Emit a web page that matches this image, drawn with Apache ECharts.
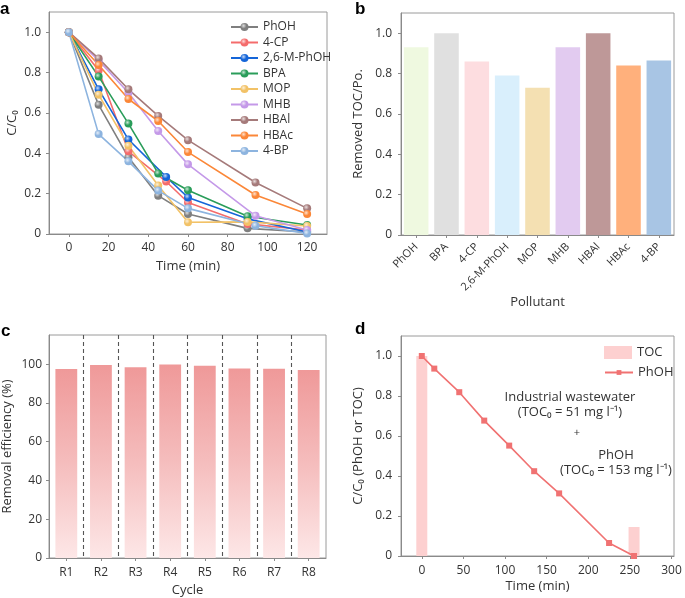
<!DOCTYPE html>
<html><head><meta charset="utf-8">
<script src="https://cdn.jsdelivr.net/npm/echarts@6/dist/echarts.min.js"></script>
<style>html,body{margin:0;padding:0;background:#fff}#c{width:685px;height:598px}</style>
</head><body><div id="c"></div>
<script>
// ---------- Panel a data ----------
const namesA = ['PhOH','4-CP','2,6-M-PhOH','BPA','MOP','MHB','HBAl','HBAc','4-BP'];
const colorsA = ['#7f7f7f','#f46c6c','#1565d8','#2a9d5a','#f2c267','#c499e8','#a57a7a','#fb8738','#8db4df'];
const tPhOH = [0,15,30,45,60,90,120];   const vPhOH = [1.0,0.64,0.38,0.19,0.099,0.028,0.01];
const t4CP  = [0,15,30,49,60,90,120];   const v4CP  = [1.0,0.81,0.41,0.26,0.156,0.05,0.02];
const t26M  = [0,15,30,49,60,90,120];   const v26M  = [1.0,0.717,0.468,0.283,0.181,0.075,0.01];
const tBPA  = [0,15,30,45,60,90,120];   const vBPA  = [1.0,0.78,0.547,0.30,0.217,0.088,0.045];
const tMOP  = [0,15,30,45,60,90,120];   const vMOP  = [1.0,0.69,0.437,0.24,0.058,0.06,0.04];
const tMHB  = [0,15,30,45,60,94,120];   const vMHB  = [1.0,0.86,0.70,0.51,0.345,0.09,0.02];
const tHBAl = [0,15,30,45,60,94,120];   const vHBAl = [1.0,0.87,0.717,0.585,0.465,0.255,0.127];
const tHBAc = [0,15,30,45,60,94,120];   const vHBAc = [1.0,0.837,0.669,0.56,0.406,0.193,0.099];
const t4BP  = [0,15,30,45,60,94,120];   const v4BP  = [1.0,0.495,0.36,0.215,0.127,0.041,0.003];
const timesA = [tPhOH,t4CP,t26M,tBPA,tMOP,tMHB,tHBAl,tHBAc,t4BP];
const valuesA = [vPhOH,v4CP,v26M,vBPA,vMOP,vMHB,vHBAl,vHBAc,v4BP];
const ticksA_x = [0,20,40,60,80,100,120];
const ticksA_y = [0,0.2,0.4,0.6,0.8,1.0];

// ---------- Panel b data ----------
const pollutants = ['PhOH','BPA','4-CP','2,6-M-PhOH','MOP','MHB','HBAl','HBAc','4-BP'];
const tocRemoved = [0.93,1.0,0.86,0.79,0.73,0.93,1.0,0.84,0.865];
const colorsB = ['#eff9e0','#e0e0e0','#fddde0','#d9effc','#f4e0b2','#e2cbf0','#be9898','#ffb07c','#a8c5e4'];

// ---------- Panel c data ----------
const cycles = ['R1','R2','R3','R4','R5','R6','R7','R8'];
const removalEff = [97.5,99.5,98.4,99.8,99.1,97.7,97.6,96.9];

// ---------- Panel d data ----------
const dTimes = [0,15,45,75,105,135,165,225,255];
const dPhOH = [1.0,0.937,0.819,0.677,0.552,0.424,0.313,0.065,0.0];
const tocTimes = [0,255];
const tocValues = [1.0,0.145];
const ticksD_x = [0,50,100,150,200,250,300];

const FONT = 'Open Sans';
const TXT = '#333';

function lighten(hex, f){
  const n = parseInt(hex.slice(1),16);
  let r=(n>>16)&255,g=(n>>8)&255,b=n&255;
  r=Math.round(r+(255-r)*f);g=Math.round(g+(255-g)*f);b=Math.round(b+(255-b)*f);
  return 'rgb('+r+','+g+','+b+')';
}
function ball(c){
  return {type:'radial',x:0.38,y:0.35,r:0.65,colorStops:[{offset:0,color:lighten(c,0.75)},{offset:0.55,color:c},{offset:1,color:c}]};
}

const axisLine = {show:true,onZero:false,lineStyle:{color:'#8a8a8a',width:1}};
const axisTick = {show:true,inside:false,length:3,lineStyle:{color:'#8a8a8a'}};
const axisLabel = {color:TXT,fontSize:12,fontFamily:FONT};
const nameStyle = {color:TXT,fontSize:13,fontFamily:FONT};
const gridBox = {show:true,borderColor:'#9a9a9a',borderWidth:1,backgroundColor:'transparent'};
const fmt1 = v => v===0 ? '0' : v.toFixed(1);

const series = [];
namesA.forEach((n,i)=>{
  series.push({
    name:n,type:'line',xAxisIndex:0,yAxisIndex:0,
    data: timesA[i].map((t,k)=>[t,valuesA[i][k]]),
    symbol:'circle',symbolSize:8,
    lineStyle:{color:colorsA[i],width:1.6},
    itemStyle:{color:ball(colorsA[i]),borderWidth:0},
    emphasis:{disabled:true}
  });
});
series.push({
  name:'Removed TOC',type:'bar',xAxisIndex:1,yAxisIndex:1,
  barCategoryGap:'19%',
  data: tocRemoved.map((v,i)=>({value:v,itemStyle:{color:colorsB[i]}})),
  emphasis:{disabled:true}
});
series.push({
  name:'Removal',type:'bar',xAxisIndex:2,yAxisIndex:2,
  barWidth:'63%',
  data: removalEff,
  itemStyle:{color:{type:'linear',x:0,y:0,x2:0,y2:1,colorStops:[{offset:0,color:'#ef9999'},{offset:0.5,color:'#f5bdbd'},{offset:1,color:'#fde7e7'}]},
    borderColor:'#f8c8c8',borderWidth:0},
  emphasis:{disabled:true}
});
series.push({
  name:'TOC',type:'bar',xAxisIndex:3,yAxisIndex:3,
  barWidth:11,
  data: tocTimes.map((t,i)=>[t,tocValues[i]]),
  itemStyle:{color:'#fdd0d0'},
  emphasis:{disabled:true}
});
series.push({
  name:'PhOH ',type:'line',xAxisIndex:3,yAxisIndex:3,
  data: dTimes.map((t,i)=>[t,dPhOH[i]]),
  symbol:'rect',symbolSize:6,
  lineStyle:{color:'#f07272',width:1.6},
  itemStyle:{color:'#f07272'},
  emphasis:{disabled:true}
});

const option = {
  animation:false,
  backgroundColor:'#fff',
  textStyle:{fontFamily:FONT},
  grid:[
    Object.assign({left:49,top:12,width:278,height:222},gridBox),
    Object.assign({left:401,top:13,width:273,height:222},gridBox),
    Object.assign({left:47,top:335,width:279,height:224},gridBox),
    Object.assign({left:401,top:336,width:273,height:220},gridBox)
  ],
  xAxis:[
    {gridIndex:0,type:'value',min:-10,max:130,splitLine:{show:false},axisLine,
     axisTick:Object.assign({customValues:ticksA_x},axisTick),
     axisLabel:Object.assign({customValues:ticksA_x,margin:8},axisLabel),
     name:'Time (min)',nameLocation:'middle',nameGap:26,nameTextStyle:nameStyle},
    {gridIndex:1,type:'category',data:pollutants,axisLine,
     axisTick:Object.assign({alignWithLabel:true},axisTick),
     axisLabel:Object.assign({rotate:45,interval:0,margin:10},axisLabel,{fontSize:11}),
     name:'Pollutant',nameLocation:'middle',nameGap:61,nameTextStyle:nameStyle},
    {gridIndex:2,type:'category',data:cycles,axisLine,
     axisTick:Object.assign({alignWithLabel:true},axisTick),
     axisLabel:Object.assign({margin:9},axisLabel),
     splitLine:{show:true,showMinLine:false,showMaxLine:false,lineStyle:{color:'#555',type:[4,3],width:1.1}},
     name:'Cycle',nameLocation:'middle',nameGap:26,nameTextStyle:nameStyle},
    {gridIndex:3,type:'value',min:-25,max:303,splitLine:{show:false},axisLine,
     axisTick:Object.assign({customValues:ticksD_x},axisTick),
     axisLabel:Object.assign({customValues:ticksD_x,margin:9},axisLabel),
     name:'Time (min)',nameLocation:'middle',nameGap:24,nameTextStyle:nameStyle}
  ],
  yAxis:[
    {gridIndex:0,type:'value',min:0,max:1.1,splitLine:{show:false},axisLine,
     axisTick:Object.assign({customValues:ticksA_y},axisTick),
     axisLabel:Object.assign({customValues:ticksA_y,formatter:fmt1,margin:8},axisLabel),
     name:'C/C\u2080',nameLocation:'middle',nameGap:30,nameTextStyle:nameStyle},
    {gridIndex:1,type:'value',min:0,max:1.1,splitLine:{show:false},axisLine,
     axisTick:Object.assign({customValues:ticksA_y},axisTick),
     axisLabel:Object.assign({customValues:ticksA_y,formatter:fmt1,margin:9},axisLabel),
     name:'Removed TOC/Po.',nameLocation:'middle',nameGap:36,nameTextStyle:nameStyle},
    {gridIndex:2,type:'value',min:0,max:115,splitLine:{show:false},axisLine,
     axisTick:Object.assign({customValues:[0,20,40,60,80,100]},axisTick),
     axisLabel:Object.assign({customValues:[0,20,40,60,80,100],margin:7},axisLabel),
     name:'Removal efficiency (%)',nameLocation:'middle',nameGap:35,nameTextStyle:nameStyle},
    {gridIndex:3,type:'value',min:0,max:1.1,splitLine:{show:false},axisLine,
     axisTick:Object.assign({customValues:ticksA_y},axisTick),
     axisLabel:Object.assign({customValues:ticksA_y,formatter:fmt1,margin:9},axisLabel),
     name:'C/C\u2080 (PhOH or TOC)',nameLocation:'middle',nameGap:36,nameTextStyle:nameStyle}
  ],
  legend:[
    {data:namesA,orient:'vertical',left:225,top:16,itemWidth:27,itemHeight:10,itemGap:3.5,
     textStyle:{color:TXT,fontSize:12,fontFamily:FONT},itemStyle:{borderWidth:0},selectedMode:false},
    {data:[{name:'TOC',icon:'rect'}],orient:'vertical',left:599,top:341,itemWidth:28,itemHeight:13,
     textStyle:{color:TXT,fontSize:13,fontFamily:FONT},selectedMode:false},
    {data:[{name:'PhOH '}],orient:'vertical',left:599,top:361,itemWidth:28,itemHeight:6,
     textStyle:{color:TXT,fontSize:13,fontFamily:FONT},selectedMode:false}
  ],
  graphic:[
    {type:'text',left:0,top:1,style:{text:'a',font:'bold 17px Arial',fill:'#000'}},
    {type:'text',left:355,top:1,style:{text:'b',font:'bold 17px Arial',fill:'#000'}},
    {type:'text',left:1,top:323,style:{text:'c',font:'bold 17px Arial',fill:'#000'}},
    {type:'text',left:355,top:321,style:{text:'d',font:'bold 17px Arial',fill:'#000'}},
    {type:'text',x:570,y:397,style:{text:'Industrial wastewater',font:'13px "Open Sans"',fill:TXT,align:'center',verticalAlign:'middle'}},
    {type:'text',x:570,y:412,style:{text:'(TOC\u2080 = 51 mg l\u207B\u00B9)',font:'13px "Open Sans"',fill:TXT,align:'center',verticalAlign:'middle'}},
    {type:'text',x:577,y:433,style:{text:'+',font:'11px "Open Sans"',fill:TXT,align:'center',verticalAlign:'middle'}},
    {type:'text',x:616,y:455,style:{text:'PhOH',font:'13px "Open Sans"',fill:TXT,align:'center',verticalAlign:'middle'}},
    {type:'text',x:616,y:470,style:{text:'(TOC\u2080 = 153 mg l\u207B\u00B9)',font:'13px "Open Sans"',fill:TXT,align:'center',verticalAlign:'middle'}}
  ],
  series
};
const chart = echarts.init(document.getElementById('c'),null,{renderer:'canvas'});
chart.setOption(option);
</script></body></html>
